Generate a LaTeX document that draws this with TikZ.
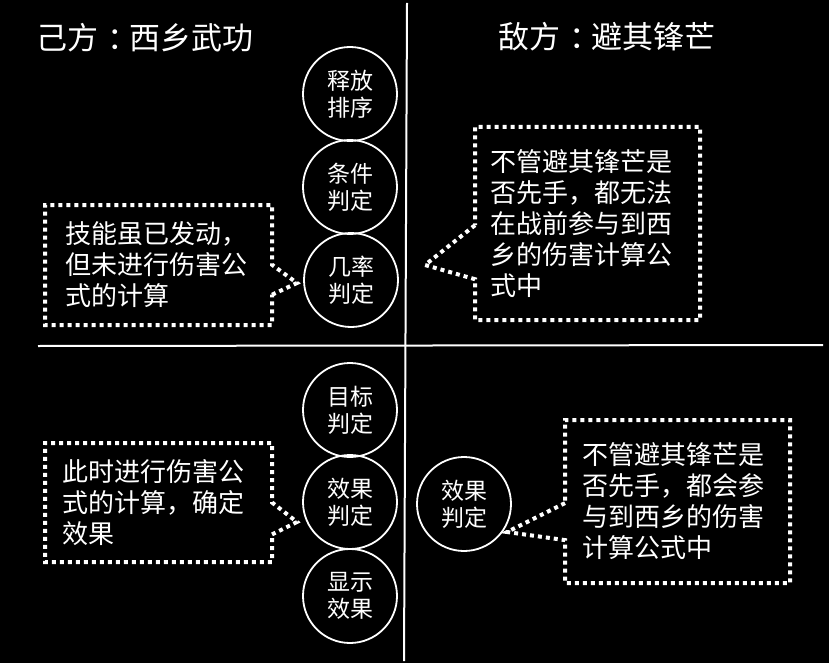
\documentclass[tikz,border=0pt]{standalone}
\usepackage{fontspec}
\setmainfont{Noto Sans CJK SC}
\usetikzlibrary{shapes.callouts}

\begin{document}
\begin{tikzpicture}[x=1pt,y=-1pt,
  judge/.style={circle, draw=white, line width=1.8pt, minimum size=94pt, inner sep=0pt,
    text=white, align=center, font=\fontsize{23}{27}\selectfont},
  note/.style={rectangle callout, draw=white, line width=4pt, dash pattern=on 4pt off 4pt,
    text=white, align=left, inner ysep=0pt, font=\fontsize{26}{31}\selectfont},
  title/.style={text=white, anchor=west, inner sep=0pt, font=\fontsize{31}{36}\selectfont}]
\useasboundingbox (0,0) rectangle (829,663);
\fill[black] (0,0) rectangle (829,663);

\draw[white, line width=2pt] (407,3) -- (404,661);
\draw[white, line width=2pt] (38,346) -- (823,345);

\node[title] (own) at (36,38) {己方\hspace{9pt}：\hspace{-9pt}西乡武功};
\node[title] (foe) at (498,37) {敌方\hspace{9pt}：\hspace{-9pt}避其锋芒};

\node[judge] (release) at (350,94) {释放\\排序};
\node[judge] (cond) at (350,187) {条件\\判定};
\node[judge] (chance) at (351,280) {几率\\判定};
\node[judge] (target) at (350,410) {目标\\判定};
\node[judge] (effect) at (350,502) {效果\\判定};
\node[judge] (show) at (350,596) {显示\\效果};
\node[judge] (foeeffect) at (464,504) {效果\\判定};

\coordinate (tipa) at (297,283);
\coordinate (tipb) at (425,265);
\coordinate (tipc) at (297,522);
\coordinate (tipd) at (507,532);

\node[note, text width=187pt, inner xsep=20pt, minimum height=120pt,
  callout absolute pointer={(tipa)}, callout pointer width=30pt] (fired) at (158.5,265)
  {技能虽已发动，\\但未进行伤害公\\式的计算};
%\node (x) at (0,0) {};
\node[note, text width=195pt, inner xsep=15pt, minimum height=193pt,
  callout absolute pointer={(tipb)}, callout pointer width=54pt] (nocalc) at (587.5,223.5)
  {不管避其锋芒是\\否先手，都无法\\在战前参与到西\\乡的伤害计算公\\式中};
\node[note, text width=193pt, inner xsep=17pt, minimum height=119pt,
  callout absolute pointer={(tipc)}, callout pointer width=32pt] (calc) at (158.5,502.5)
  {此时进行伤害公\\式的计算，确定\\效果};
\node[note, text width=191pt, inner xsep=17pt, minimum height=163pt,
  callout absolute pointer={(tipd)}, callout pointer width=37pt] (joins) at (677.5,501.5)
  {不管避其锋芒是\\否先手，都会参\\与到西乡的伤害\\计算公式中};
\end{tikzpicture}
\end{document}
